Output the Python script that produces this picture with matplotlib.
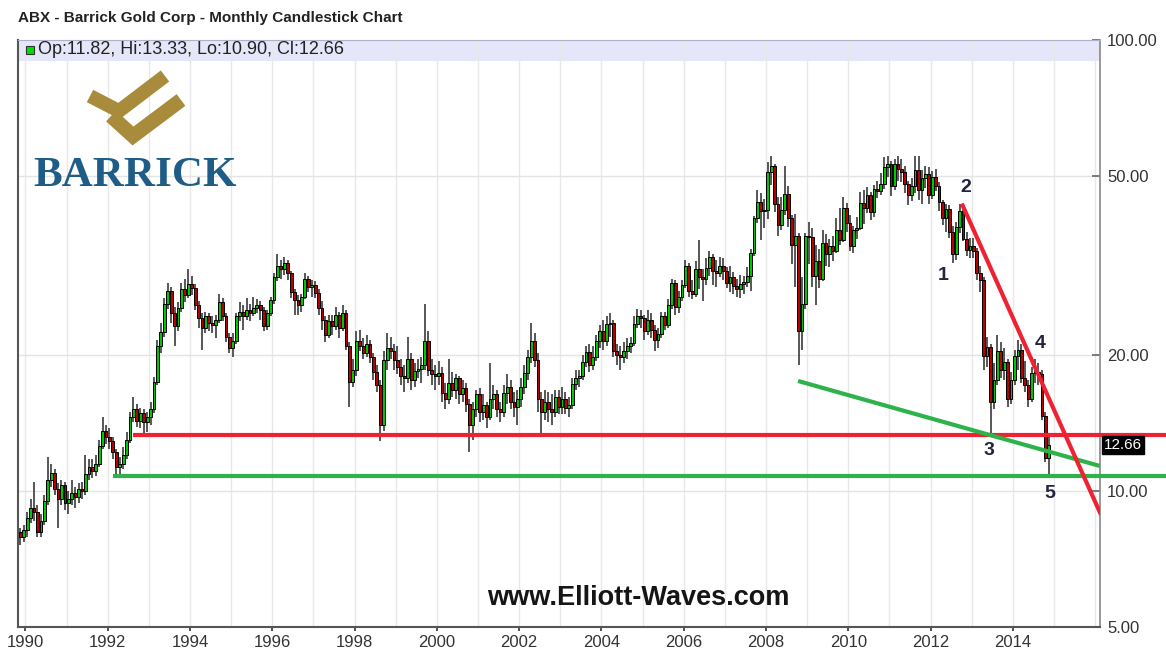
import numpy as np
import matplotlib
matplotlib.use("Agg")
import matplotlib.pyplot as plt
from matplotlib.patches import Rectangle
from matplotlib.lines import Line2D
from matplotlib.ticker import NullLocator

plt.rcParams['font.family'] = ['Liberation Sans', 'DejaVu Sans']

# monthly candles, Nov 1989 .. Nov 2014 (opens = previous close)
first_open = 8.1
closes = [
    7.9, 8.2,                                                              # 1989 Nov-Dec
    8.7, 9.2, 9.0, 8.1, 8.6, 9.5, 10.6, 11.0, 10.1, 9.6, 10.3, 9.4,        # 1990
    9.6, 9.9, 9.7, 10.1, 10.0, 10.9, 11.3, 11.1, 11.5, 12.6, 13.6, 13.2,   # 1991
    12.9, 12.2, 11.3, 11.5, 12.0, 13.0, 14.6, 15.2, 14.3, 14.9, 14.2, 14.6,  # 1992
    15.2, 17.5, 21.0, 22.5, 26.0, 27.8, 24.8, 23.2, 25.5, 28.0, 27.2, 28.8,  # 1993
    28.2, 25.8, 24.2, 23.0, 24.4, 23.6, 23.3, 24.0, 26.3, 24.5, 22.0, 20.8,  # 1994
    21.5, 24.4, 25.0, 24.5, 25.2, 24.8, 25.5, 25.9, 25.2, 23.2, 24.8, 26.5,  # 1995
    29.8, 31.5, 31.0, 32.0, 30.5, 27.6, 26.5, 25.8, 26.9, 29.5, 28.3, 28.6,  # 1996
    27.5, 25.5, 24.0, 22.2, 23.8, 23.2, 24.6, 23.0, 24.8, 21.0, 17.5, 18.6,  # 1997
    21.5, 21.0, 20.2, 21.2, 19.8, 18.4, 17.2, 14.0, 19.5, 20.8, 20.4, 19.5,  # 1998
    18.8, 18.0, 17.8, 19.6, 17.6, 18.5, 18.7, 19.0, 21.5, 18.6, 18.2, 18.0,  # 1999
    18.3, 16.5, 16.0, 17.4, 16.8, 17.8, 16.4, 16.9, 15.6, 14.0, 15.2, 16.4,  # 2000
    15.0, 15.5, 14.6, 16.0, 16.4, 15.2, 15.0, 16.5, 17.0, 15.8, 15.4, 16.0,  # 2001
    17.0, 18.3, 19.8, 21.5, 19.5, 16.0, 15.0, 15.8, 15.2, 15.0, 16.2, 15.4,  # 2002
    16.0, 15.3, 15.5, 17.3, 17.8, 18.0, 19.3, 20.3, 19.0, 19.8, 21.5, 22.6,  # 2003
    21.5, 23.5, 23.6, 20.5, 20.0, 19.8, 20.5, 21.0, 21.3, 23.5, 24.5, 24.2,  # 2004
    22.6, 24.0, 22.8, 21.6, 22.3, 24.5, 23.4, 25.8, 29.0, 25.6, 27.0, 28.6,  # 2005
    31.5, 27.8, 27.3, 31.0, 29.8, 29.6, 31.2, 33.0, 30.8, 30.5, 31.6, 30.7,  # 2006
    29.0, 29.8, 28.5, 28.0, 28.8, 29.1, 30.0, 33.8, 40.3, 43.8, 41.8, 42.0,  # 2007
    51.0, 52.5, 43.4, 38.9, 42.0, 45.5, 40.3, 35.2, 36.7, 22.7, 26.0, 36.8,  # 2008
    36.5, 30.0, 32.4, 29.6, 35.5, 33.5, 35.0, 34.0, 37.9, 36.0, 42.5, 39.4,  # 2009
    35.0, 38.0, 38.3, 43.5, 42.5, 45.4, 41.5, 46.8, 46.3, 48.0, 52.2, 53.2,  # 2010
    47.5, 53.0, 51.9, 51.0, 48.0, 45.3, 47.5, 51.5, 46.6, 49.5, 50.5, 45.3,  # 2011
    49.6, 47.5, 43.7, 40.4, 42.2, 37.6, 33.5, 38.6, 41.8, 36.2, 34.3, 35.0,  # 2012
    34.0, 30.5, 29.4, 19.9, 20.9, 15.8, 17.6, 20.4, 18.6, 19.3, 16.0, 17.6,  # 2013
    19.9, 20.6, 17.8, 17.2, 16.0, 18.3, 18.4, 18.2, 14.66, 11.82, 12.66,     # 2014 Jan-Nov
]
highs = [
    8.3, 8.4,
    9.0, 9.6, 10.5, 9.3, 8.9, 9.8, 11.9, 11.5, 11.2, 10.4, 10.6, 10.5,
    10.0, 10.6, 10.2, 10.4, 10.5, 12.0, 11.8, 11.8, 12.0, 13.0, 14.6, 14.0,
    13.8, 13.2, 12.4, 11.9, 12.5, 13.5, 15.0, 16.2, 15.6, 15.3, 15.2, 15.0,
    15.8, 17.9, 21.6, 23.6, 26.8, 29.0, 28.4, 25.6, 26.2, 29.0, 29.6, 31.0,
    30.0, 28.8, 26.4, 24.8, 25.0, 24.8, 24.4, 24.6, 27.3, 26.8, 24.8, 22.4,
    22.4, 24.8, 26.2, 25.8, 26.8, 26.0, 27.0, 26.6, 26.4, 25.6, 25.2, 27.0,
    30.4, 33.5, 32.6, 33.0, 32.5, 30.8, 28.0, 27.2, 27.4, 30.4, 30.0, 29.4,
    29.2, 28.0, 26.4, 24.4, 24.6, 24.6, 25.6, 25.0, 25.8, 25.2, 21.4, 19.6,
    22.6, 22.8, 21.8, 22.2, 21.6, 20.2, 19.0, 17.6, 20.4, 22.4, 22.0, 21.2,
    21.0, 19.6, 19.0, 22.0, 20.2, 19.2, 19.6, 19.8, 26.0, 22.6, 19.6, 19.0,
    19.4, 18.8, 17.4, 19.6, 18.4, 18.2, 18.0, 17.6, 17.4, 16.0, 15.8, 16.8,
    16.9, 16.4, 15.8, 19.2, 17.2, 16.8, 15.8, 17.2, 18.2, 17.6, 16.6, 16.8,
    17.8, 19.0, 20.6, 23.6, 22.4, 20.2, 16.6, 16.8, 16.6, 16.4, 16.8, 16.8,
    17.0, 16.6, 16.2, 17.8, 18.6, 18.6, 20.0, 21.0, 21.2, 21.0, 22.2, 23.4,
    24.0, 24.4, 24.8, 24.0, 21.2, 21.0, 21.4, 21.8, 22.0, 24.4, 25.4, 25.2,
    24.6, 25.2, 24.8, 23.4, 23.0, 25.0, 25.0, 26.6, 29.6, 29.4, 27.8, 29.4,
    32.6, 32.0, 29.4, 32.4, 36.0, 31.0, 32.8, 34.0, 33.6, 32.6, 33.0, 32.8,
    31.4, 31.6, 30.6, 29.6, 30.2, 30.0, 31.4, 34.4, 40.8, 46.6, 45.8, 44.4,
    53.6, 55.2, 53.0, 44.8, 44.8, 52.5, 47.5, 41.0, 41.2, 37.4, 29.8, 37.4,
    39.6, 38.4, 35.2, 34.4, 38.0, 37.2, 36.2, 36.8, 40.4, 42.4, 44.8, 43.6,
    41.0, 38.8, 40.6, 46.0, 46.4, 47.2, 46.0, 47.6, 48.8, 50.8, 55.0, 55.2,
    54.0, 54.4, 55.2, 54.6, 52.6, 48.8, 49.4, 55.2, 55.4, 51.4, 52.6, 52.2,
    51.2, 51.8, 48.4, 44.2, 43.2, 43.0, 38.8, 39.6, 43.4, 42.0, 37.6, 36.4,
    36.4, 34.6, 31.6, 29.8, 22.0, 21.2, 19.2, 22.2, 21.4, 20.8, 19.6, 18.4,
    20.6, 21.6, 21.2, 19.4, 17.6, 18.8, 19.6, 19.2, 18.6, 15.0, 13.33,
]
lows = [
    7.6, 7.7,
    7.9, 8.5, 8.6, 7.9, 7.9, 8.4, 9.3, 10.2, 9.8, 8.3, 9.3, 9.1,
    8.9, 9.3, 9.2, 9.4, 9.6, 9.8, 10.6, 10.7, 10.8, 11.3, 12.4, 12.7,
    12.4, 11.8, 10.9, 10.8, 11.2, 11.8, 12.8, 14.2, 13.9, 13.8, 13.4, 13.5,
    14.0, 14.9, 17.2, 20.2, 22.0, 25.4, 23.6, 21.0, 22.6, 25.0, 26.2, 26.8,
    27.2, 25.2, 23.0, 20.6, 22.4, 22.6, 22.4, 21.8, 23.6, 23.8, 21.4, 20.2,
    19.8, 21.2, 23.8, 22.8, 24.0, 23.8, 24.4, 24.8, 24.0, 22.6, 22.8, 24.5,
    26.0, 29.2, 29.6, 30.2, 29.4, 26.8, 24.6, 24.6, 25.0, 26.6, 27.6, 27.0,
    26.8, 24.6, 22.8, 21.4, 21.8, 22.2, 22.8, 21.8, 22.6, 20.6, 15.4, 17.0,
    18.0, 20.4, 19.6, 19.8, 19.2, 17.6, 16.6, 12.9, 13.6, 18.6, 19.6, 18.6,
    18.2, 17.2, 16.6, 17.4, 16.8, 17.0, 17.8, 17.4, 18.6, 18.0, 17.2, 16.8,
    17.2, 15.8, 15.2, 15.6, 16.2, 16.0, 15.6, 15.8, 15.0, 12.2, 13.0, 14.6,
    14.2, 14.4, 13.8, 14.4, 15.2, 14.6, 14.2, 14.6, 15.6, 15.2, 14.6, 14.0,
    15.4, 16.4, 17.6, 19.2, 18.8, 15.0, 13.4, 14.4, 14.2, 14.0, 14.6, 14.8,
    14.8, 14.8, 14.6, 15.2, 16.8, 17.0, 17.6, 18.8, 18.4, 18.6, 19.4, 20.8,
    20.6, 21.0, 22.0, 19.8, 19.0, 18.6, 19.2, 19.6, 20.2, 21.0, 23.0, 23.0,
    21.6, 22.2, 21.8, 20.4, 20.8, 21.8, 22.8, 23.0, 25.4, 24.6, 24.8, 26.4,
    28.2, 27.0, 26.6, 27.0, 28.0, 26.4, 28.6, 30.0, 28.6, 28.4, 29.8, 29.4,
    28.2, 27.6, 27.4, 27.0, 26.8, 27.4, 28.4, 27.8, 33.2, 39.4, 36.0, 38.4,
    40.2, 47.6, 41.6, 36.8, 38.0, 41.0, 38.6, 31.8, 28.4, 19.0, 20.6, 25.4,
    31.8, 28.4, 25.8, 28.2, 29.2, 31.6, 31.4, 32.4, 33.8, 35.2, 35.6, 37.6,
    34.0, 33.8, 36.2, 38.0, 39.2, 41.4, 40.0, 40.6, 44.6, 45.4, 46.8, 49.6,
    45.2, 46.4, 48.6, 48.4, 45.8, 43.0, 44.0, 45.8, 44.2, 43.2, 47.0, 43.4,
    44.4, 46.2, 41.8, 39.0, 37.6, 36.4, 32.0, 32.6, 37.4, 35.8, 33.2, 32.8,
    32.8, 29.4, 27.6, 18.6, 18.8, 13.4, 15.2, 17.2, 17.8, 17.6, 15.4, 15.6,
    17.2, 18.6, 17.4, 16.6, 15.4, 15.8, 17.4, 17.2, 14.4, 11.6, 10.90,
]

# trend lines drawn on the chart (year, price)
support_red = (1992.62, 13.3)
support_green = (1992.12, 10.8)
green_diag = [(2008.78, 17.55), (2016.12, 11.37)]
red_diag = [(2012.76, 43.4), (2016.14, 8.88)]
wave_labels = ['1', '2', '3', '4', '5']
wave_x = [2012.30, 2012.86, 2013.42, 2014.66, 2014.90]
wave_y = [30.1, 47.0, 12.3, 21.3, 9.9]
y_ticks = [5, 10, 20, 50, 100]
x_ticks = list(range(1990, 2016, 2))

W, H = 1166, 649
fig = plt.figure(figsize=(W / 100, H / 100), dpi=100)
ax = fig.add_axes([18 / W, 1 - 627 / H, (1100 - 18) / W, (627 - 40) / H])
ax.set_yscale('log')
ax.set_ylim(5, 100)
ax.set_xlim(1989.818, 2016.12)

n = len(closes)
x = 1989 + (10 + np.arange(n) + 0.5) / 12.0
c = np.array(closes)
o = np.array([first_open] + closes[:-1])
hi = np.array(highs)
lo = np.array(lows)
up = c >= o

ax.vlines(x, lo, hi, color='#2a2a2a', lw=1.1, zorder=2)
bw = 0.82 / 12
body_lo = np.minimum(o, c)
body_h = np.maximum(np.abs(c - o), 0.08)
ax.bar(x[up], body_h[up], bottom=body_lo[up], width=bw, color='#00c800',
       edgecolor='black', lw=0.7, zorder=3)
ax.bar(x[~up], body_h[~up], bottom=body_lo[~up], width=bw, color='#b80000',
       edgecolor='black', lw=0.7, zorder=3)

# trend / support lines
red_c = '#ee2232'
green_c = '#2db34a'
ax.plot([support_red[0], 2017.75], [support_red[1]] * 2, color=red_c, lw=3,
        clip_on=False, zorder=4, solid_capstyle='butt')
ax.plot([support_green[0], 2017.75], [support_green[1]] * 2, color=green_c, lw=3,
        clip_on=False, zorder=4, solid_capstyle='butt')
ax.plot([p[0] for p in green_diag], [p[1] for p in green_diag], color=green_c, lw=3,
        zorder=4, solid_capstyle='butt')
ax.plot([p[0] for p in red_diag], [p[1] for p in red_diag], color=red_c, lw=3,
        zorder=4, solid_capstyle='butt')

for lab, wx, wy in zip(wave_labels, wave_x, wave_y):
    ax.text(wx, wy, lab, fontsize=14, fontweight='bold', color='#23233f',
            ha='center', va='center', zorder=6)

# axes styling
ax.yaxis.tick_right()
ax.set_yticks(y_ticks)
ax.set_yticklabels(['%.2f' % v for v in y_ticks])
ax.yaxis.set_minor_locator(NullLocator())
ax.set_xticks(x_ticks)
ax.set_xticklabels([str(v) for v in x_ticks])
ax.set_xticks(range(1990, 2017), minor=True)
ax.tick_params(axis='y', direction='in', length=6, width=1.2, color='#666666',
               labelsize=12, pad=5, labelcolor='#333333')
ax.tick_params(axis='x', which='major', direction='out', length=3, width=1.2,
               color='#333333', labelsize=12, pad=3, labelcolor='#333333')
ax.tick_params(axis='x', which='minor', length=0)
ax.grid(True, axis='x', which='both', color='#e8e8e8', lw=1)
ax.grid(True, axis='y', which='major', color='#e4e4e4', lw=1)
ax.set_axisbelow(True)
for side, col, lw in [('left', '#555555', 1.5), ('bottom', '#555555', 1.5),
                      ('right', '#888888', 1.2), ('top', '#b0b0c8', 0.8)]:
    ax.spines[side].set_color(col)
    ax.spines[side].set_linewidth(lw)

# info band at the top of the plot
ax.add_patch(Rectangle((0, (627 - 61) / 587), 1, 21 / 587, transform=ax.transAxes,
                       facecolor='#e6e6fa', edgecolor='none', zorder=0.2))
fig.add_artist(Rectangle((26 / W, 1 - 54 / H), 8 / W, 8 / H, transform=fig.transFigure,
                         facecolor='#00dd00', edgecolor='#333333', lw=0.8))
fig.text(38 / W, 1 - 50 / H, 'Op:11.82, Hi:13.33, Lo:10.90, Cl:12.66', fontsize=13,
         color='#222222', va='center')

# last price tag
ax.text(1.004, 12.66, '12.66', transform=ax.get_yaxis_transform(), fontsize=11,
        color='white', va='center', ha='left', clip_on=False, zorder=7,
        bbox=dict(boxstyle='square,pad=0.12', facecolor='black', edgecolor='black'))

# title and watermark
fig.text(18 / W, 1 - 18 / H, 'ABX - Barrick Gold Corp - Monthly Candlestick Chart',
         fontsize=11, fontweight='bold', color='#222222', va='center')
fig.text(638 / W, 1 - 598 / H, 'www.Elliott-Waves.com', fontsize=19.5, fontweight='bold',
         color='#151515', ha='center', va='center')

# Barrick logo
gold = '#a88b3b'
def px(xs, ys):
    return [v / W for v in xs], [1 - v / H for v in ys]
ux, uy = px([90, 119, 165], [96, 111, 76])
fig.add_artist(Line2D(ux, uy, transform=fig.transFigure, lw=10, color=gold,
                      solid_capstyle='butt', solid_joinstyle='miter'))
lx, ly = px([111, 133, 181], [116, 136, 100])
fig.add_artist(Line2D(lx, ly, transform=fig.transFigure, lw=10.5, color=gold,
                      solid_capstyle='butt', solid_joinstyle='miter'))
fig.text(135 / W, 1 - 176 / H, 'BARRICK', fontsize=31, family='Liberation Serif',
         fontweight='bold', color='#1f5d87', ha='center', va='center')

fig.savefig('out.png', dpi=100)
